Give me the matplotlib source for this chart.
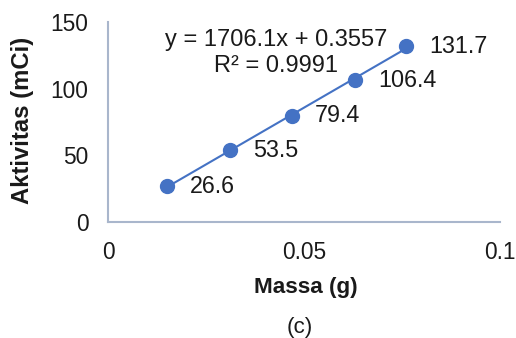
import matplotlib
matplotlib.use("Agg")
import matplotlib.pyplot as plt

plt.rcParams['font.family'] = ['Liberation Sans', 'DejaVu Sans']

# Measured samples
massa = [0.0151, 0.0311, 0.0470, 0.0631, 0.0760]
aktivitas = [26.6, 53.5, 79.4, 106.4, 131.7]
point_labels = ["26.6", "53.5", "79.4", "106.4", "131.7"]

# Linear trendline coefficients
slope = 1706.1
intercept = 0.3557
r_squared = 0.9991

x_ticks = [0, 0.05, 0.1]
x_tick_labels = ["0", "0.05", "0.1"]
y_ticks = [0, 50, 100, 150]

blue = "#4472C4"
spine_col = "#A9B6CC"
txt = "#1a1a1a"

fig = plt.figure(figsize=(5.16, 3.38), dpi=100)
ax = fig.add_axes([108 / 516, 1 - 221.7 / 338, 392 / 516, (221.7 - 22) / 338])

# trendline over data range
xs = [min(massa), max(massa)]
ax.plot(xs, [slope * v + intercept for v in xs], color=blue, lw=1.5, zorder=2)
ax.plot(massa, aktivitas, 'o', color=blue, markersize=10, zorder=3)

for x, y, lab in zip(massa, aktivitas, point_labels):
    ax.annotate(lab, (x, y), xytext=(16.5, 0), textcoords='offset points',
                ha='left', va='center', fontsize=16.8, color=txt)

ax.text(0.428, 0.845, f"y = {slope}x + {intercept}\nR² = {r_squared}",
        transform=ax.transAxes, ha='center', va='center', fontsize=17,
        color=txt, linespacing=1.2)

ax.set_xlim(0, 0.1)
ax.set_ylim(0, 150)
ax.set_xticks(x_ticks)
ax.set_xticklabels(x_tick_labels)
ax.set_yticks(y_ticks)
ax.tick_params(axis='both', length=0, labelsize=16.4, colors=txt)
ax.tick_params(axis='x', pad=14)
ax.tick_params(axis='y', pad=14)

for s in ['top', 'right']:
    ax.spines[s].set_visible(False)
for s in ['left', 'bottom']:
    ax.spines[s].set_color(spine_col)
    ax.spines[s].set_linewidth(1.5)

fig.text(306 / 516, 1 - 288 / 338, "Massa (g)", ha='center', va='center',
         fontsize=16.2, fontweight='bold', color=txt)
fig.text(23 / 516, 1 - 120 / 338, "Aktivitas (mCi)", ha='center', va='center',
         rotation=90, fontsize=17.2, fontweight='bold', color=txt)
fig.text(300 / 516, 1 - 327 / 338, "(c)", ha='center', va='center',
         fontsize=16.2, color=txt)

fig.savefig("out.png", dpi=100)
